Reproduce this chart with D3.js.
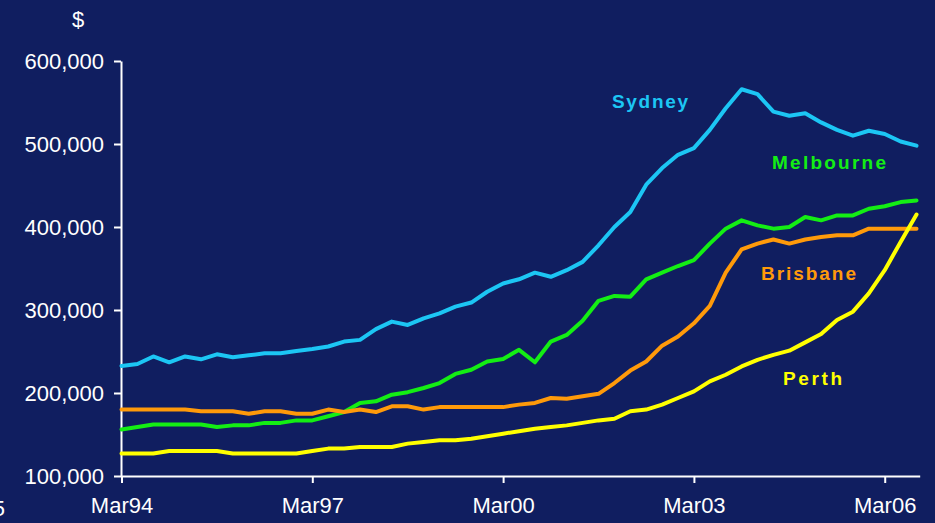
<!DOCTYPE html>
<html>
<head>
<meta charset="utf-8">
<script src="https://cdn.jsdelivr.net/npm/d3@7"></script>
<style>
  html, body { margin: 0; padding: 0; background: #101e60; }
  svg { display: block; }
</style>
</head>
<body>
<svg id="chart"></svg>
<script>
// quarterly median house prices, Mar94 .. Sep06 (51 quarters)
var sydney = [232500, 235000, 244000, 237000, 244000, 240600, 246600, 243000, 245400, 247800,
              248000, 250600, 253000, 256000, 262000, 264000, 277000, 286000, 282000, 290000,
              296000, 304000, 309000, 322000, 332000, 337000, 345000, 340000, 348000, 358000,
              378000, 400000, 418000, 451000, 471000, 487000, 495000, 517000, 543000, 566000,
              560000, 539000, 534000, 537000, 526000, 517000, 510000, 516000, 512000, 503000, 498000];
var melbourne = [156000, 159000, 162000, 162000, 162000, 162000, 159000, 161000, 161000, 164000,
                 164000, 167000, 167000, 172000, 177000, 188000, 190000, 198000, 201000, 206000,
                 212000, 223000, 228000, 238000, 241000, 252000, 237000, 262000, 270000, 287000,
                 311000, 317000, 316000, 337000, 345000, 353000, 360000, 380000, 398000, 408000,
                 402000, 398000, 400000, 412000, 408000, 414000, 414000, 422000, 425000, 430000, 432000];
var brisbane = [180000, 180000, 180000, 180000, 180000, 178000, 178000, 178000, 175000, 178000,
                178000, 175000, 175000, 180000, 177000, 180000, 177000, 184000, 184000, 180000,
                183000, 183000, 183000, 183000, 183000, 186000, 188000, 194000, 193000, 196000,
                199000, 212000, 227000, 238000, 257000, 268000, 284000, 305000, 345000, 373000,
                380000, 385000, 380000, 385000, 388000, 390000, 390000, 398000, 398000, 398000, 398000];
var perth = [127000, 127000, 127000, 130000, 130000, 130000, 130000, 127000, 127000, 127000,
             127000, 127000, 130000, 133000, 133000, 135000, 135000, 135000, 139000, 141000,
             143000, 143000, 145000, 148000, 151000, 154000, 157000, 159000, 161000, 164000,
             167000, 169000, 178000, 180000, 186000, 194000, 202000, 214000, 222000, 232000,
             240000, 246000, 251000, 261000, 271000, 288000, 298000, 320000, 348000, 382000, 415000];

var seriesNames = ["Sydney", "Melbourne", "Brisbane", "Perth"];
var xTickIndex = [0, 12, 24, 36, 48];
var xTickLabels = ["Mar94", "Mar97", "Mar00", "Mar03", "Mar06"];
var yTicks = [100000, 200000, 300000, 400000, 500000, 600000];

var width = 935, height = 523;
var bg = "#101e60";
var colors = ["#1cc6f4", "#14ee14", "#ff9a0a", "#ffff00"];

var svg = d3.select("#chart")
    .attr("width", width)
    .attr("height", height)
    .style("font-family", "'Liberation Sans', Arial, sans-serif");

svg.append("rect").attr("width", width).attr("height", height).attr("fill", bg);

// scales
var xScale = d3.scaleLinear()
    .domain([0, 50.2])
    .range([121.5, 919.7]);

var yScale = d3.scaleLinear()
    .domain([100000, 600000])
    .range([476, 61]);

// y axis
var yAxis = svg.append("g")
    .attr("transform", "translate(121,0)")
    .call(d3.axisLeft(yScale)
        .tickValues(yTicks)
        .tickSize(7)
        .tickSizeOuter(0)
        .tickPadding(10)
        .tickFormat(d3.format(",")));

// x axis
var xAxis = svg.append("g")
    .attr("transform", "translate(0,476)")
    .call(d3.axisBottom(xScale)
        .tickValues(xTickIndex)
        .tickSize(7)
        .tickSizeOuter(0)
        .tickPadding(14)
        .tickFormat(function(d, i) { return xTickLabels[i]; }));

[yAxis, xAxis].forEach(function(ax) {
    ax.select(".domain").attr("stroke", "#ffffff").attr("stroke-width", 2);
    ax.selectAll(".tick line").attr("stroke", "#ffffff").attr("stroke-width", 2);
    ax.selectAll(".tick text")
        .attr("fill", "#ffffff")
        .style("font-size", "22px")
        .style("font-family", "'Liberation Sans', Arial, sans-serif");
});
xAxis.selectAll(".tick text").attr("dy", "0.71em");

// "$" unit label
svg.append("text")
    .attr("x", 78)
    .attr("y", 27)
    .attr("text-anchor", "middle")
    .attr("fill", "#ffffff")
    .style("font-size", "22px")
    .text("$");

// clipped leftover character at bottom left
svg.append("text")
    .attr("x", 5)
    .attr("y", 516)
    .attr("text-anchor", "end")
    .attr("fill", "#ffffff")
    .style("font-size", "22px")
    .text("5");

// lines
var line = d3.line()
    .x(function(d, i) { return xScale(i); })
    .y(function(d) { return yScale(d); });

var allSeries = [sydney, melbourne, brisbane, perth];
allSeries.forEach(function(s, k) {
    svg.append("path")
        .datum(s)
        .attr("d", line)
        .attr("fill", "none")
        .attr("stroke", colors[k])
        .attr("stroke-width", 4)
        .attr("stroke-linejoin", "round")
        .attr("stroke-linecap", "round");
});

// series labels
var labelPos = [
    { x: 612, y: 108, w: 76 },
    { x: 772, y: 169, w: 114 },
    { x: 761, y: 280, w: 95 },
    { x: 783, y: 385, w: 59 }
];
seriesNames.forEach(function(name, k) {
    svg.append("text")
        .attr("x", labelPos[k].x)
        .attr("y", labelPos[k].y)
        .attr("textLength", labelPos[k].w)
        .attr("lengthAdjust", "spacing")
        .attr("fill", colors[k])
        .style("font-size", "19px")
        .style("font-weight", "bold")
        .text(name);
});
</script>
</body>
</html>
